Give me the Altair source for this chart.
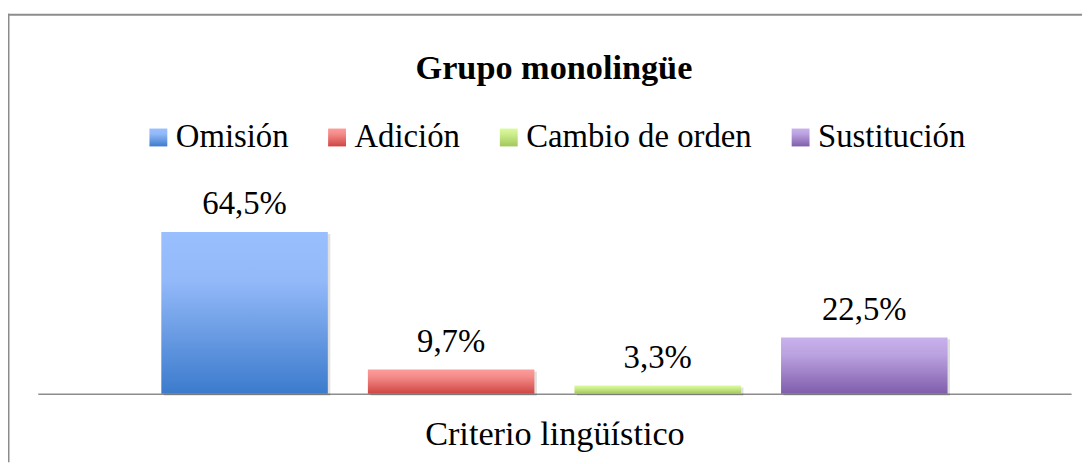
import altair as alt
import pandas as pd

# ---- data ----
categories = ["Omisión", "Adición", "Cambio de orden", "Sustitución"]
values = [64.5, 9.7, 3.3, 22.5]
value_labels = ["64,5%", "9,7%", "3,3%", "22,5%"]
top_colors = ["#99BFFE", "#FC9C9A", "#DCFA9E", "#C8B1EC"]
mid_colors = ["#93B9F9", "#F48C8A", "#CDEE8E", "#BBA2E0"]
bottom_colors = ["#3B7BCC", "#CF4542", "#A2C75A", "#7F5DAB"]
chart_title = ["Grupo monolingüe"]
x_title = "Criterio lingüístico"

FONT = "Liberation Serif"
W, H = 1082, 456

df = pd.DataFrame({"cat": categories, "val": values, "lab": value_labels})


def grad(t, m, b):
    return {
        "expr": (
            "{gradient: 'linear', x1: 0, y1: 0, x2: 0, y2: 1, stops: ["
            f"{{offset: 0, color: '{t}'}}, {{offset: 0.3, color: '{m}'}}, "
            f"{{offset: 1, color: '{b}'}}]}}"
        )
    }


grad_range = [grad(t, m, b) for t, m, b in zip(top_colors, mid_colors, bottom_colors)]

x_enc = alt.X(
    "cat:N",
    sort=categories,
    title=x_title,
    scale=alt.Scale(domain=categories, range=[30, 1071], paddingInner=0.194,
                    paddingOuter=0.598, round=False),
    axis=alt.Axis(
        labels=False, ticks=False, grid=False, domainColor="#8C8C8C", domainWidth=1.5,
        offset=-69, titleFont=FONT, titleFontSize=34.5, titleFontWeight="normal",
        titleColor="#000000", titlePadding=24,
    ),
)
y_enc = alt.Y("val:Q", axis=None, scale=alt.Scale(domain=[0, 70], range=[387, 210.1]))

shadow = alt.Chart(df).mark_bar(color="#000000", opacity=0.12, xOffset=2.5, yOffset=2).encode(
    x=x_enc, y=y_enc
)

bars = alt.Chart(df).mark_bar().encode(
    x=alt.X("cat:N", sort=categories),
    y="val:Q",
    color=alt.Color(
        "cat:N",
        sort=categories,
        scale=alt.Scale(domain=categories, range=grad_range),
        legend=alt.Legend(
            title=None, orient="none", legendX=135, legendY=112, direction="horizontal",
            symbolType="square", symbolSize=324, symbolStrokeWidth=0, columnPadding=32,
            labelOffset=1, labelFont=FONT, labelFontSize=33, labelColor="#000000",
            labelLimit=400, padding=0,
        ),
    ),
)

texts = alt.Chart(df).mark_text(
    font=FONT, fontSize=33, color="#000000", baseline="alphabetic", dy=-18
).encode(x=alt.X("cat:N", sort=categories), y="val:Q", text="lab:N")

title = alt.Chart(pd.DataFrame({"t": chart_title})).mark_text(
    font=FONT, fontSize=34.5, fontWeight="bold", color="#000000", baseline="alphabetic"
).encode(x=alt.value(550), y=alt.value(70), text="t:N")

one = pd.DataFrame({"a": [0]})
left_line = alt.Chart(one).mark_rule(color="#8C8C8C", strokeWidth=2).encode(
    x=alt.value(0.5), y=alt.value(4), y2=alt.value(H)
)
top_line = alt.Chart(one).mark_rule(color="#8C8C8C", strokeWidth=2).encode(
    x=alt.value(-0.5), x2=alt.value(W), y=alt.value(5)
)

chart = (
    alt.layer(shadow, bars, texts, title, left_line, top_line)
    .properties(width=W, height=H, autosize=alt.AutoSizeParams(type="none"), padding=0)
    .configure_view(stroke=None)
)

chart.save("out.html", embed_options={"renderer": "svg", "actions": False})
